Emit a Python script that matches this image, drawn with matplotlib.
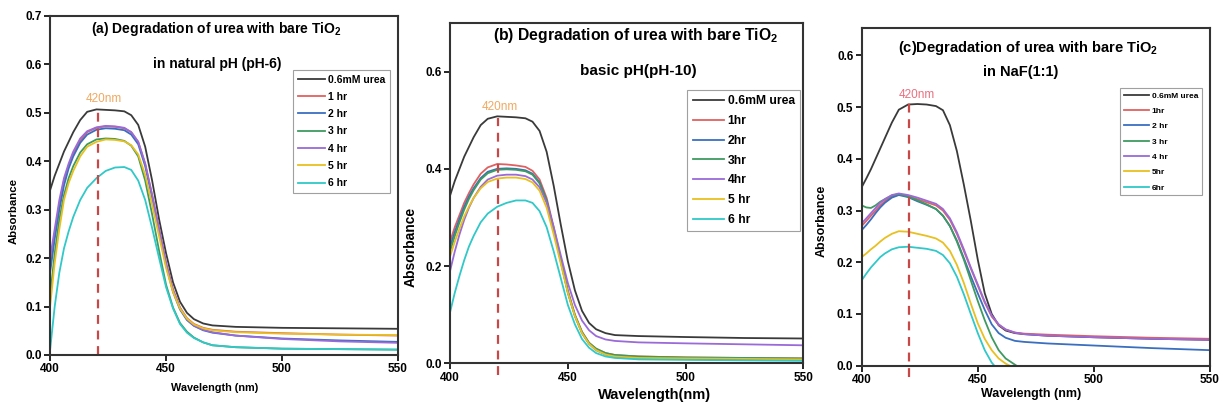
import matplotlib
matplotlib.use("Agg")
import matplotlib.pyplot as plt

plt.rcParams["font.family"] = ["Liberation Sans", "DejaVu Sans"]
plt.rcParams["font.weight"] = "bold"
plt.rcParams["mathtext.fontset"] = "custom"
plt.rcParams["mathtext.bf"] = "Liberation Sans:bold"
plt.rcParams["mathtext.rm"] = "Liberation Sans:bold"
plt.rcParams["mathtext.default"] = "bf"

wl = [400, 402, 404, 406, 408, 410, 413, 416, 420, 424, 428, 432, 435, 438,
      441, 444, 447, 450, 453, 456, 459, 462, 466, 470, 480, 500, 525, 550]

# (a) natural pH
a_urea = [0.34, 0.37, 0.395, 0.42, 0.44, 0.46, 0.485, 0.502, 0.507, 0.506, 0.505, 0.503, 0.495, 0.475,
          0.43, 0.36, 0.28, 0.21, 0.15, 0.11, 0.087, 0.074, 0.065, 0.061, 0.058, 0.056, 0.055, 0.054]
a_1hr = [0.18, 0.25, 0.31, 0.36, 0.39, 0.415, 0.442, 0.46, 0.469, 0.472, 0.471, 0.468, 0.46, 0.44,
         0.395, 0.33, 0.26, 0.19, 0.135, 0.098, 0.076, 0.064, 0.056, 0.052, 0.048, 0.045, 0.042, 0.04]
a_2hr = [0.17, 0.24, 0.30, 0.35, 0.385, 0.41, 0.438, 0.455, 0.465, 0.468, 0.467, 0.464, 0.455, 0.435,
         0.39, 0.325, 0.255, 0.185, 0.13, 0.094, 0.072, 0.06, 0.051, 0.046, 0.04, 0.034, 0.03, 0.027]
a_3hr = [0.12, 0.21, 0.28, 0.33, 0.365, 0.39, 0.418, 0.435, 0.445, 0.447, 0.446, 0.442, 0.432, 0.41,
         0.36, 0.29, 0.215, 0.145, 0.098, 0.066, 0.048, 0.036, 0.026, 0.02, 0.016, 0.013, 0.012, 0.011]
a_4hr = [0.20, 0.26, 0.32, 0.365, 0.395, 0.42, 0.447, 0.462, 0.47, 0.473, 0.472, 0.469, 0.46, 0.44,
         0.395, 0.33, 0.26, 0.19, 0.134, 0.097, 0.074, 0.061, 0.052, 0.047, 0.04, 0.033, 0.028, 0.025]
a_5hr = [0.10, 0.19, 0.26, 0.32, 0.355, 0.38, 0.41, 0.43, 0.44, 0.445, 0.444, 0.441, 0.433, 0.414,
         0.372, 0.31, 0.245, 0.18, 0.13, 0.096, 0.075, 0.063, 0.055, 0.051, 0.047, 0.044, 0.042, 0.041]
a_6hr = [0.01, 0.10, 0.17, 0.22, 0.255, 0.285, 0.32, 0.345, 0.365, 0.38, 0.387, 0.388, 0.382, 0.36,
         0.32, 0.262, 0.2, 0.14, 0.096, 0.064, 0.046, 0.035, 0.026, 0.02, 0.016, 0.013, 0.012, 0.011]

# (b) basic pH
b_urea = [0.345, 0.375, 0.40, 0.425, 0.445, 0.465, 0.49, 0.503, 0.508, 0.507, 0.506, 0.504, 0.497, 0.478,
          0.435, 0.365, 0.285, 0.21, 0.15, 0.108, 0.083, 0.07, 0.062, 0.058, 0.056, 0.054, 0.052, 0.051]
b_1hr = [0.25, 0.28, 0.305, 0.33, 0.35, 0.368, 0.39, 0.403, 0.41, 0.409, 0.407, 0.404, 0.396, 0.378,
         0.34, 0.28, 0.215, 0.15, 0.10, 0.065, 0.042, 0.03, 0.021, 0.017, 0.014, 0.012, 0.011, 0.01]
b_2hr = [0.24, 0.27, 0.297, 0.322, 0.343, 0.36, 0.381, 0.394, 0.40, 0.401, 0.40, 0.397, 0.39, 0.372,
         0.335, 0.275, 0.21, 0.145, 0.097, 0.062, 0.04, 0.027, 0.018, 0.014, 0.011, 0.009, 0.008, 0.007]
b_3hr = [0.23, 0.262, 0.29, 0.316, 0.338, 0.356, 0.378, 0.391, 0.398, 0.399, 0.398, 0.395, 0.388, 0.37,
         0.334, 0.275, 0.21, 0.147, 0.099, 0.064, 0.042, 0.03, 0.021, 0.017, 0.014, 0.012, 0.011, 0.01]
b_4hr = [0.19, 0.23, 0.265, 0.295, 0.32, 0.34, 0.363, 0.378, 0.386, 0.388, 0.388, 0.385, 0.378, 0.362,
         0.33, 0.28, 0.222, 0.165, 0.12, 0.088, 0.068, 0.056, 0.049, 0.046, 0.043, 0.041, 0.039, 0.037]
b_5hr = [0.22, 0.25, 0.277, 0.302, 0.322, 0.34, 0.36, 0.373, 0.38, 0.382, 0.382, 0.379, 0.372, 0.355,
         0.32, 0.265, 0.205, 0.145, 0.097, 0.062, 0.04, 0.027, 0.018, 0.014, 0.011, 0.01, 0.009, 0.008]
b_6hr = [0.105, 0.145, 0.18, 0.212, 0.24, 0.262, 0.29, 0.308, 0.322, 0.33, 0.335, 0.335, 0.33, 0.313,
         0.28, 0.23, 0.175, 0.12, 0.08, 0.05, 0.032, 0.021, 0.014, 0.011, 0.008, 0.007, 0.006, 0.005]

# (c) NaF (1:1)
c_urea = [0.345, 0.362, 0.38, 0.40, 0.42, 0.44, 0.47, 0.495, 0.505, 0.506, 0.505, 0.502, 0.494, 0.465,
          0.415, 0.35, 0.28, 0.205, 0.14, 0.10, 0.078, 0.068, 0.063, 0.061, 0.058, 0.055, 0.052, 0.05]
c_1hr = [0.27, 0.28, 0.29, 0.30, 0.31, 0.318, 0.327, 0.331, 0.328, 0.322, 0.316, 0.31, 0.30, 0.282,
         0.255, 0.222, 0.188, 0.155, 0.122, 0.095, 0.079, 0.07, 0.064, 0.062, 0.06, 0.057, 0.054, 0.052]
c_2hr = [0.262, 0.272, 0.283, 0.295, 0.306, 0.315, 0.325, 0.33, 0.326, 0.318, 0.311, 0.303, 0.29, 0.27,
         0.242, 0.208, 0.173, 0.14, 0.108, 0.08, 0.063, 0.054, 0.048, 0.046, 0.043, 0.039, 0.034, 0.03]
c_3hr = [0.31, 0.306, 0.305, 0.31, 0.317, 0.322, 0.329, 0.332, 0.327, 0.32, 0.312, 0.303, 0.29, 0.27,
         0.24, 0.205, 0.165, 0.125, 0.088, 0.055, 0.03, 0.014, 0.002, -0.01, -0.03, -0.03, -0.03, -0.03]
c_4hr = [0.275, 0.285, 0.295, 0.305, 0.315, 0.322, 0.33, 0.333, 0.33, 0.325, 0.319, 0.313, 0.303, 0.285,
         0.258, 0.225, 0.19, 0.157, 0.124, 0.097, 0.08, 0.07, 0.064, 0.061, 0.058, 0.055, 0.052, 0.05]
c_5hr = [0.21, 0.217, 0.225, 0.232, 0.24, 0.247, 0.255, 0.26, 0.259, 0.255, 0.251, 0.246, 0.238, 0.222,
         0.195, 0.16, 0.12, 0.082, 0.052, 0.03, 0.014, 0.004, -0.005, -0.02, -0.03, -0.03, -0.03, -0.03]
c_6hr = [0.165, 0.178, 0.19, 0.20, 0.21, 0.217, 0.225, 0.229, 0.23, 0.228, 0.226, 0.222, 0.214, 0.198,
         0.172, 0.138, 0.10, 0.063, 0.03, 0.006, -0.01, -0.02, -0.03, -0.03, -0.03, -0.03, -0.03, -0.03]

labels_a = ["0.6mM urea", "1 hr", "2 hr", "3 hr", "4 hr", "5 hr", "6 hr"]
labels_b = ["0.6mM urea", "1hr", "2hr", "3hr", "4hr", "5 hr", "6 hr"]
labels_c = ["0.6mM urea", "1hr", "2 hr", "3 hr", "4 hr", "5hr", "6hr"]

colors = ["#3a3a3a", "#e06060", "#3a6fc0", "#3f9a60", "#9a6ad8", "#e8c020", "#30c8c8"]

fig = plt.figure(figsize=(12.21, 4.08), dpi=100)

panels = [
    dict(pos=[0.041, 0.130, 0.285, 0.831], ylim=0.7, yticks=[0, .1, .2, .3, .4, .5, .6, .7],
         series=[a_urea, a_1hr, a_2hr, a_3hr, a_4hr, a_5hr, a_6hr], labels=labels_a,
         t1="(a) Degradation of urea with bare TiO$_2$", t1xy=(0.477, 0.962), t1fs=10,
         t2="in natural pH (pH-6)", t2xy=(0.48, 0.858), t2fs=10,
         xlabel="Wavelength (nm)", xlfs=7.8, xlxy=(0.474, -0.083),
         ylfs=8.2, ylxy=(-0.09, 0.425),
         leg=(0.977, 0.841), legfs=7.5, legsp=0.7, hl=2.6,
         dash=(0.0, 0.51), tag=(423, 0.528), tag_c="#f0a860"),
    dict(pos=[0.3686, 0.1096, 0.2894, 0.834], ylim=0.7, yticks=[0, .2, .4, .6],
         series=[b_urea, b_1hr, b_2hr, b_3hr, b_4hr, b_5hr, b_6hr], labels=labels_b,
         t1="(b) Degradation of urea with bare TiO$_2$", t1xy=(0.524, 0.962), t1fs=11.3,
         t2="basic pH(pH-10)", t2xy=(0.532, 0.859), t2fs=11,
         xlabel="Wavelength(nm)", xlfs=10.5, xlxy=(0.58, -0.072),
         ylfs=10, ylxy=(-0.093, 0.342),
         leg=(0.991, 0.803), legfs=8.7, legsp=0.64, hl=2.6,
         dash=(-0.025, 0.505), tag=(421, 0.527), tag_c="#f0a860"),
    dict(pos=[0.7057, 0.1037, 0.2853, 0.8277], ylim=0.653, yticks=[0, .1, .2, .3, .4, .5, .6],
         series=[c_urea, c_1hr, c_2hr, c_3hr, c_4hr, c_5hr, c_6hr], labels=labels_c,
         t1="(c)Degradation of urea with bare TiO$_2$", t1xy=(0.477, 0.941), t1fs=10.5,
         t2="in NaF(1:1)", t2xy=(0.456, 0.87), t2fs=10.5,
         xlabel="Wavelength (nm)", xlfs=9, xlxy=(0.486, -0.066),
         ylfs=9, ylxy=(-0.097, 0.43),
         leg=(0.977, 0.822), legfs=6, legsp=0.9, hl=3.0,
         dash=(-0.022, 0.51), tag=(423.8, 0.524), tag_c="#e87080"),
]

for p in panels:
    ax = fig.add_axes(p["pos"])
    for ys, lab, col in zip(p["series"], p["labels"], colors):
        ax.plot(wl, ys, color=col, lw=1.3, label=lab)
    ax.plot([420.5, 420.5], list(p["dash"]), color="#c84848", lw=1.6, ls=(0, (4, 3)), clip_on=False)
    ax.text(p["tag"][0], p["tag"][1], "420nm", color=p["tag_c"], fontsize=8.5, ha="center",
            va="center", fontweight="normal")
    ax.set_xlim(400, 550)
    ax.set_ylim(0, p["ylim"])
    ax.set_xticks([400, 450, 500, 550])
    ax.set_yticks(p["yticks"])
    ax.set_yticklabels([f"{v:.1f}" for v in p["yticks"]])
    ax.tick_params(direction="out", length=4, width=1.2, labelsize=8.5, pad=2)
    for lbl in ax.get_xticklabels() + ax.get_yticklabels():
        lbl.set_fontweight("bold")
    for s in ax.spines.values():
        s.set_linewidth(1.5)
        s.set_color("#333333")
    ax.text(*p["t1xy"], p["t1"], transform=ax.transAxes, ha="center", va="center",
            fontsize=p["t1fs"], fontweight="bold")
    ax.text(*p["t2xy"], p["t2"], transform=ax.transAxes, ha="center", va="center",
            fontsize=p["t2fs"], fontweight="bold")
    ax.set_xlabel(p["xlabel"], fontsize=p["xlfs"], fontweight="bold")
    ax.xaxis.set_label_coords(*p["xlxy"])
    ax.set_ylabel("Absorbance", fontsize=p["ylfs"], fontweight="bold")
    ax.yaxis.set_label_coords(*p["ylxy"])
    leg = ax.legend(loc="upper right", bbox_to_anchor=p["leg"], frameon=True, fancybox=False,
                    prop={"size": p["legfs"], "weight": "bold"}, handlelength=p["hl"],
                    handletextpad=0.3, labelspacing=p["legsp"], borderpad=0.45, borderaxespad=0)
    leg.get_frame().set_edgecolor("#888888")
    leg.get_frame().set_linewidth(0.8)

fig.savefig("out.png", dpi=100)
